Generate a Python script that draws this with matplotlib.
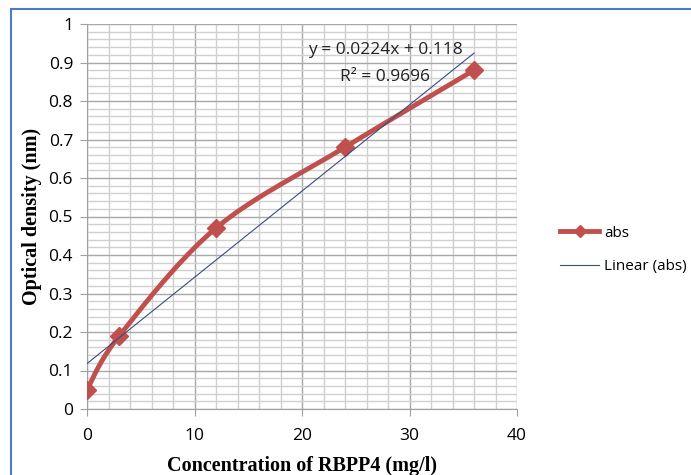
import numpy as np
import matplotlib
matplotlib.use("Agg")
import matplotlib.pyplot as plt
from matplotlib.patches import Rectangle
from matplotlib.ticker import MultipleLocator
from matplotlib.lines import Line2D

conc = [0, 3, 12, 24, 36]
absorb = [0.05, 0.19, 0.47, 0.68, 0.88]
x_ticks = [0, 10, 20, 30, 40]
y_ticks = [0, 0.1, 0.2, 0.3, 0.4, 0.5, 0.6, 0.7, 0.8, 0.9, 1]
y_tick_labels = ["0", "0.1", "0.2", "0.3", "0.4", "0.5", "0.6", "0.7", "0.8", "0.9", "1"]

red = "#C0504D"
trend_col = "#3B4C7E"

def smooth(xs, ys, n=40):
    P = np.column_stack([xs, ys]).astype(float)
    P = np.vstack([P[0], P, P[-1]])
    out = []
    for i in range(1, len(P) - 2):
        p0, p1, p2, p3 = P[i - 1], P[i], P[i + 1], P[i + 2]
        c1 = p1 + (p2 - p0) / 6.0
        c2 = p2 - (p3 - p1) / 6.0
        t = np.linspace(0, 1, n)[:, None]
        seg = ((1 - t) ** 3) * p1 + 3 * ((1 - t) ** 2) * t * c1 + 3 * (1 - t) * t ** 2 * c2 + t ** 3 * p2
        out.append(seg if i == 1 else seg[1:])
    out = np.vstack(out)
    return out[:, 0], out[:, 1]

fig = plt.figure(figsize=(6.91, 4.75), dpi=100)
W, H = 691, 475
ax = fig.add_axes([87 / W, (H - 409) / H, (517 - 87) / W, (409 - 24) / H])

# outer border
fig.patches.append(Rectangle((11 / W, -0.1), 1.2, (H - 9) / H + 0.1, transform=fig.transFigure,
                             fill=False, edgecolor="#4A7BC8", linewidth=1.5))

ax.set_xlim(0, 40)
ax.set_ylim(0, 1)
ax.xaxis.set_major_locator(MultipleLocator(10))
ax.xaxis.set_minor_locator(MultipleLocator(2))
ax.yaxis.set_major_locator(MultipleLocator(0.1))
ax.yaxis.set_minor_locator(MultipleLocator(0.02))
ax.grid(which="minor", color="#D0D0D0", linewidth=1.0)
ax.grid(which="major", color="#A8A8A8", linewidth=1.0)
ax.set_axisbelow(True)
for s in ["top", "right"]:
    ax.spines[s].set_visible(False)
for s in ["left", "bottom"]:
    ax.spines[s].set_color("#A0A0A0")
ax.tick_params(which="major", length=5, color="#A0A0A0", labelsize=12.5, pad=5)
ax.tick_params(axis="x", which="major", pad=9)
ax.tick_params(which="minor", length=0)
ax.set_xticks(x_ticks)
ax.set_yticks(y_ticks)
ax.set_yticklabels(y_tick_labels)
for lab in ax.get_xticklabels() + ax.get_yticklabels():
    lab.set_family("Open Sans")

sx, sy = smooth(conc, absorb)
ax.plot(sx, sy, color=red, linewidth=3.5, solid_capstyle="round", zorder=3)
ax.plot(conc, absorb, linestyle="none", marker="D", markersize=9, color=red, zorder=4)

# linear trend
coef = np.polyfit(conc, absorb, 1)
tx = np.array([min(conc), max(conc)])
ax.plot(tx, np.polyval(coef, tx), color=trend_col, linewidth=0.8, zorder=5)
pred = np.polyval(coef, conc)
r2 = 1 - np.sum((np.array(absorb) - pred) ** 2) / np.sum((np.array(absorb) - np.mean(absorb)) ** 2)

fig.text(385 / W, (H - 50) / H, "y = %.4fx + %.3f" % (coef[0], coef[1]), ha="center", va="center",
         fontsize=12.5, family="Open Sans", color="#222222")
fig.text(385 / W, (H - 77) / H, "R² = %.4f" % r2, ha="center", va="center",
         fontsize=12.5, family="Open Sans", color="#222222")

ax.set_xlabel("Concentration of RBPP4 (mg/l)", family="Liberation Serif", fontweight="bold",
              fontsize=14.5, labelpad=8)
ax.set_ylabel("Optical density (nm)", family="Liberation Serif", fontweight="bold",
              fontsize=14.5, labelpad=5)

# legend
h1 = Line2D([], [], color=red, linewidth=3.5, marker="D", markersize=6)
h2 = Line2D([], [], color=trend_col, linewidth=0.8)
leg = fig.legend([h1, h2], ["abs", "Linear (abs)"], loc="center left",
                 bbox_to_anchor=(546 / W, (H - 250) / H), frameon=False,
                 prop={"family": "Open Sans", "size": 11}, handlelength=2.6,
                 labelspacing=1.2, handletextpad=0.3)

fig.savefig("out.png", dpi=100)
